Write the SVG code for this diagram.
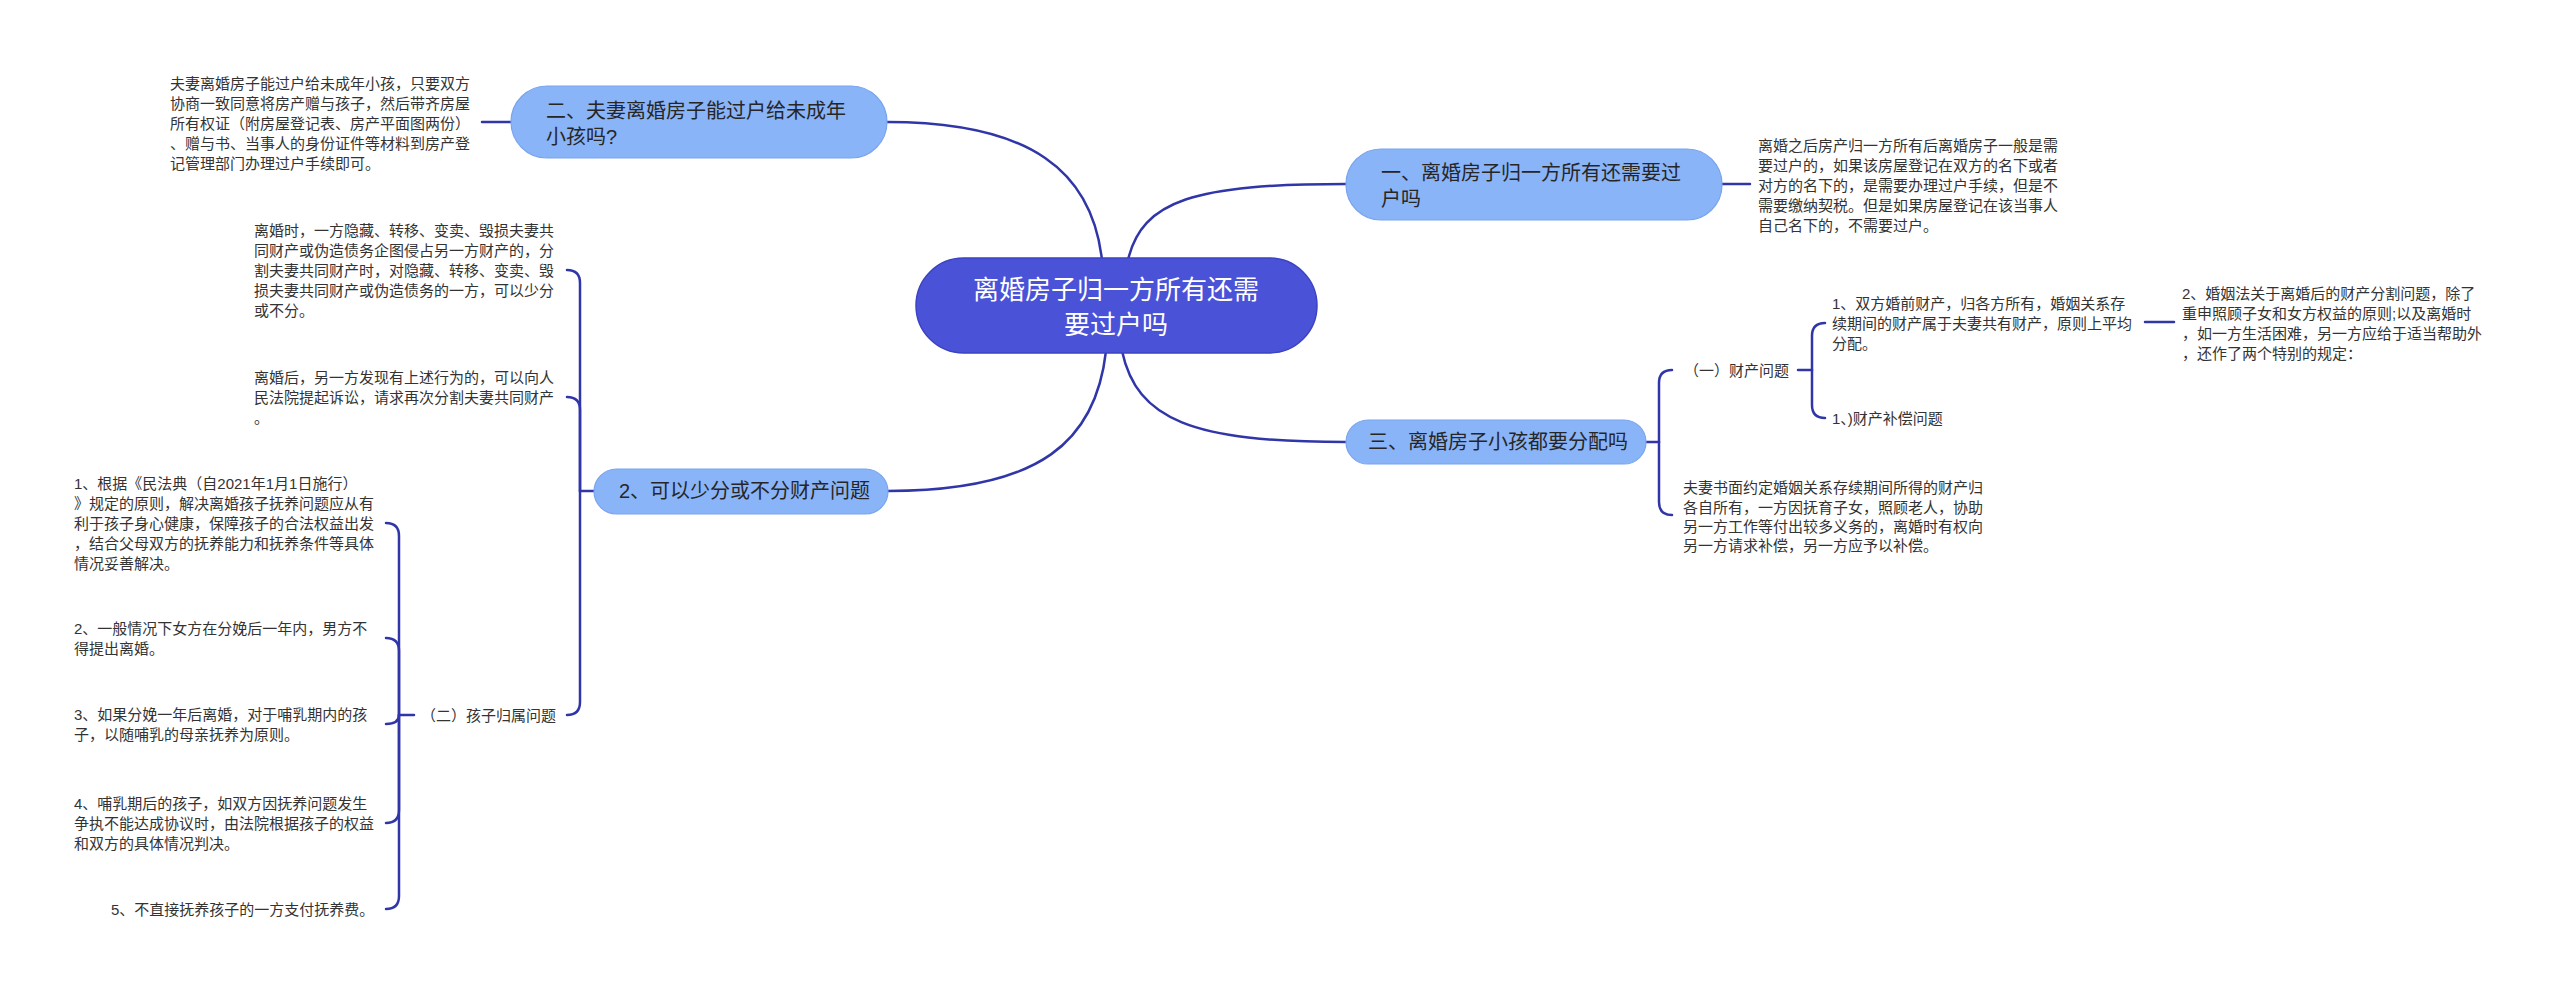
<svg xmlns="http://www.w3.org/2000/svg" width="2560" height="992" viewBox="0 0 2560 992">
<style>
.bg{fill:#ffffff}
.main{fill:#4A52D8;stroke:#3C43C2;stroke-width:1.5}
.sub{fill:#8AB4F8;stroke:#79A4EE;stroke-width:1.2}
.conn path{fill:none;stroke:#3036A8;stroke-width:2.5;stroke-linecap:round}
text{font-family:"Liberation Sans","Noto Sans CJK SC",sans-serif;dominant-baseline:central}
.tmain{font-size:26px;fill:#ffffff}
.tsub{font-size:20px;fill:#262626}
.leaf{font-size:15px;fill:#333333}
</style>
<rect class="bg" x="0" y="0" width="2560" height="992"/>
<g class="conn" id="connectors">
<path d="M 1128 260 C 1142 200, 1195 184, 1346 184"/>
<path d="M 1102 260 C 1092 172, 1032 122, 887 122"/>
<path d="M 1122 351 C 1137 420, 1192 442, 1346 442"/>
<path d="M 1106 351 C 1096 440, 1042 491, 888 491"/>
<path d="M 1722 184 L 1750 184"/>
<path d="M 482 122 L 511 122"/>
<path d="M 1646 442 L 1659 442"/>
<path d="M 1659 442 L 1659 383 Q 1659 370 1672 370"/>
<path d="M 1659 442 L 1659 502 Q 1659 515 1672 515"/>
<path d="M 1798 370 L 1812 370"/>
<path d="M 1812 370 L 1812 336 Q 1812 323 1825 323"/>
<path d="M 1812 370 L 1812 405 Q 1812 418 1825 418"/>
<path d="M 2145 322 L 2174 322"/>
<path d="M 594 491 L 580 491"/>
<path d="M 580 491 L 580 283 Q 580 270 567 270"/>
<path d="M 580 491 L 580 410 Q 580 397 567 397"/>
<path d="M 580 491 L 580 702 Q 580 715 567 715"/>
<path d="M 414 715 L 399 715"/>
<path d="M 399 715 L 399 536 Q 399 523 386 523"/>
<path d="M 399 715 L 399 651 Q 399 638 386 638"/>
<path d="M 399 715 Q 399 724 386 724"/>
<path d="M 399 715 L 399 810 Q 399 823 386 823"/>
<path d="M 399 715 L 399 896 Q 399 909 386 909"/>
</g>
<g id="center">
<rect class="main" x="916" y="258" width="401" height="95" rx="47.5"/>
<text class="tmain" text-anchor="middle"><tspan x="1116" y="290">离婚房子归一方所有还需</tspan><tspan x="1116" y="325">要过户吗</tspan></text>
</g>
<g id="node-1">
<rect class="sub" x="1346" y="149" width="376" height="71" rx="35"/>
<text class="tsub"><tspan x="1381" y="173">一、离婚房子归一方所有还需要过</tspan><tspan x="1381" y="199">户吗</tspan></text>
</g>
<g id="node-1-text">
<text class="leaf"><tspan x="1758" y="145">离婚之后房产归一方所有后离婚房子一般是需</tspan><tspan x="1758" y="165">要过户的，如果该房屋登记在双方的名下或者</tspan><tspan x="1758" y="185">对方的名下的，是需要办理过户手续，但是不</tspan><tspan x="1758" y="205">需要缴纳契税。但是如果房屋登记在该当事人</tspan><tspan x="1758" y="225">自己名下的，不需要过户。</tspan></text>
</g>
<g id="node-2">
<rect class="sub" x="511" y="86" width="376" height="72" rx="36"/>
<text class="tsub"><tspan x="546" y="111">二、夫妻离婚房子能过户给未成年</tspan><tspan x="546" y="137">小孩吗?</tspan></text>
</g>
<g id="node-2-text">
<text class="leaf"><tspan x="170" y="83">夫妻离婚房子能过户给未成年小孩，只要双方</tspan><tspan x="170" y="103">协商一致同意将房产赠与孩子，然后带齐房屋</tspan><tspan x="170" y="123">所有权证（附房屋登记表、房产平面图两份）</tspan><tspan x="170" y="143">、赠与书、当事人的身份证件等材料到房产登</tspan><tspan x="170" y="163">记管理部门办理过户手续即可。</tspan></text>
</g>
<g id="node-3">
<rect class="sub" x="1346" y="420" width="300" height="44" rx="22"/>
<text class="tsub" x="1368" y="442">三、离婚房子小孩都要分配吗</text>
</g>
<g id="node-3-1">
<text class="leaf" x="1684" y="370">（一）财产问题</text>
</g>
<g id="node-3-1-1">
<text class="leaf"><tspan x="1832" y="303">1、双方婚前财产，归各方所有，婚姻关系存</tspan><tspan x="1832" y="323">续期间的财产属于夫妻共有财产，原则上平均</tspan><tspan x="1832" y="343">分配。</tspan></text>
</g>
<g id="node-3-1-1-1">
<text class="leaf"><tspan x="2182" y="293">2、婚姻法关于离婚后的财产分割问题，除了</tspan><tspan x="2182" y="313">重申照顾子女和女方权益的原则;以及离婚时</tspan><tspan x="2182" y="333">，如一方生活困难，另一方应给于适当帮助外</tspan><tspan x="2182" y="353">，还作了两个特别的规定：</tspan></text>
</g>
<g id="node-3-1-2">
<text class="leaf" x="1832" y="418">1、)财产补偿问题</text>
</g>
<g id="node-3-2">
<text class="leaf"><tspan x="1683" y="487">夫妻书面约定婚姻关系存续期间所得的财产归</tspan><tspan x="1683" y="507">各自所有，一方因抚育子女，照顾老人，协助</tspan><tspan x="1683" y="526">另一方工作等付出较多义务的，离婚时有权向</tspan><tspan x="1683" y="545">另一方请求补偿，另一方应予以补偿。</tspan></text>
</g>
<g id="node-4">
<rect class="sub" x="594" y="469" width="294" height="45" rx="22.5"/>
<text class="tsub" x="619" y="491">2、可以少分或不分财产问题</text>
</g>
<g id="node-4-1">
<text class="leaf"><tspan x="254" y="230">离婚时，一方隐藏、转移、变卖、毁损夫妻共</tspan><tspan x="254" y="250">同财产或伪造债务企图侵占另一方财产的，分</tspan><tspan x="254" y="270">割夫妻共同财产时，对隐藏、转移、变卖、毁</tspan><tspan x="254" y="290">损夫妻共同财产或伪造债务的一方，可以少分</tspan><tspan x="254" y="310">或不分。</tspan></text>
</g>
<g id="node-4-2">
<text class="leaf"><tspan x="254" y="377">离婚后，另一方发现有上述行为的，可以向人</tspan><tspan x="254" y="397">民法院提起诉讼，请求再次分割夫妻共同财产</tspan><tspan x="254" y="417">。</tspan></text>
</g>
<g id="node-4-3">
<text class="leaf" x="421" y="715">（二）孩子归属问题</text>
</g>
<g id="node-4-3-1">
<text class="leaf"><tspan x="74" y="483">1、根据《民法典（自2021年1月1日施行）</tspan><tspan x="74" y="503">》规定的原则，解决离婚孩子抚养问题应从有</tspan><tspan x="74" y="523">利于孩子身心健康，保障孩子的合法权益出发</tspan><tspan x="74" y="543">，结合父母双方的抚养能力和抚养条件等具体</tspan><tspan x="74" y="563">情况妥善解决。</tspan></text>
</g>
<g id="node-4-3-2">
<text class="leaf"><tspan x="74" y="628">2、一般情况下女方在分娩后一年内，男方不</tspan><tspan x="74" y="648">得提出离婚。</tspan></text>
</g>
<g id="node-4-3-3">
<text class="leaf"><tspan x="74" y="714">3、如果分娩一年后离婚，对于哺乳期内的孩</tspan><tspan x="74" y="734">子，以随哺乳的母亲抚养为原则。</tspan></text>
</g>
<g id="node-4-3-4">
<text class="leaf"><tspan x="74" y="803">4、哺乳期后的孩子，如双方因抚养问题发生</tspan><tspan x="74" y="823">争执不能达成协议时，由法院根据孩子的权益</tspan><tspan x="74" y="843">和双方的具体情况判决。</tspan></text>
</g>
<g id="node-4-3-5">
<text class="leaf" x="111" y="909">5、不直接抚养孩子的一方支付抚养费。</text>
</g>
</svg>
